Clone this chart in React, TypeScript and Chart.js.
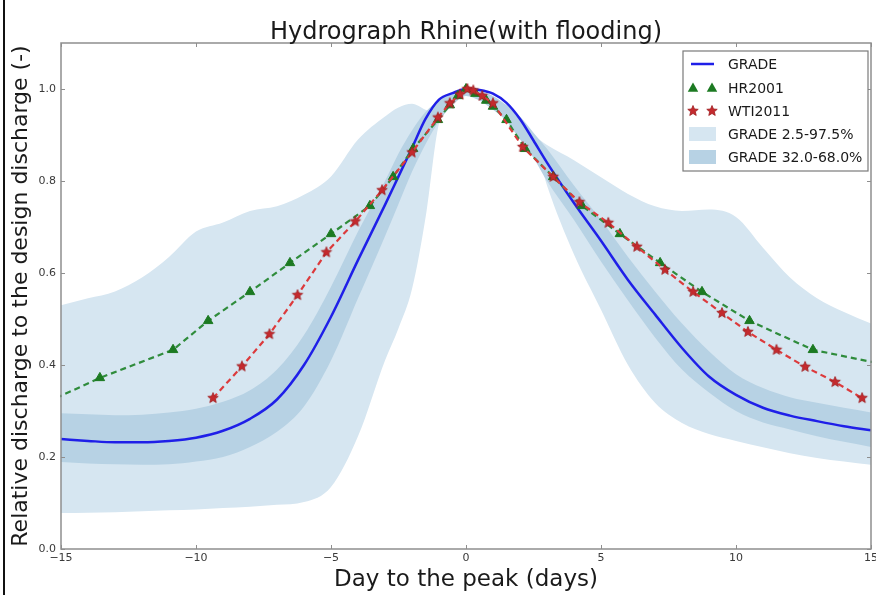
import React, { useEffect, useRef } from 'react';
import { Chart, registerables } from 'chart.js';

Chart.register(...registerables);

// ---------- data ----------
const DAYS = [-15, -14, -13, -12, -11, -10, -9, -8, -7, -6, -5, -4, -3, -2.5, -2, -1.5, -1, -0.5, 0, 0.5, 1, 1.5, 2, 2.5, 3, 4, 5, 6, 7, 8, 9, 10, 11, 12, 13, 14, 15];

const GRADE = [0.239, 0.235, 0.232, 0.232, 0.235, 0.242, 0.257, 0.283, 0.325, 0.4, 0.505, 0.628, 0.748, 0.81, 0.872, 0.935, 0.977, 0.991, 1.0, 0.998, 0.99, 0.97, 0.935, 0.888, 0.84, 0.752, 0.67, 0.585, 0.51, 0.437, 0.375, 0.335, 0.307, 0.29, 0.278, 0.267, 0.258];

const GRADE_P975 = [0.53, 0.545, 0.56, 0.59, 0.635, 0.69, 0.71, 0.735, 0.745, 0.77, 0.81, 0.89, 0.94, 0.96, 0.968, 0.955, 0.945, 0.975, 0.995, 0.985, 0.965, 0.95, 0.925, 0.9, 0.878, 0.845, 0.808, 0.772, 0.745, 0.735, 0.738, 0.722, 0.655, 0.59, 0.545, 0.515, 0.49];

const GRADE_P025 = [0.078, 0.079, 0.08, 0.082, 0.084, 0.086, 0.089, 0.092, 0.096, 0.102, 0.135, 0.245, 0.41, 0.48, 0.565, 0.72, 0.925, 0.965, 0.99, 0.98, 0.96, 0.945, 0.93, 0.89, 0.79, 0.64, 0.52, 0.4, 0.318, 0.274, 0.25, 0.235, 0.221, 0.208, 0.198, 0.19, 0.183];

const GRADE_P68 = [0.295, 0.293, 0.291, 0.292, 0.297, 0.305, 0.32, 0.345, 0.39, 0.465, 0.57, 0.69, 0.8, 0.86, 0.91, 0.95, 0.975, 0.99, 1.0, 0.995, 0.985, 0.965, 0.94, 0.905, 0.87, 0.79, 0.715, 0.635, 0.56, 0.49, 0.43, 0.38, 0.35, 0.33, 0.318, 0.307, 0.297];

const GRADE_P32 = [0.189, 0.186, 0.184, 0.183, 0.184, 0.19, 0.2, 0.222, 0.255, 0.31, 0.41, 0.545, 0.68, 0.75, 0.82, 0.88, 0.93, 0.965, 0.985, 0.975, 0.955, 0.93, 0.89, 0.85, 0.8, 0.715, 0.625, 0.54, 0.46, 0.39, 0.34, 0.3, 0.275, 0.26, 0.245, 0.233, 0.222];

const HR2001_DAYS = [-15.85, -13.56, -10.85, -9.55, -8.0, -6.52, -5.0, -3.56, -2.7, -1.96, -1.04, -0.6, -0.3, 0.0, 0.35, 0.75, 1.0, 1.5, 2.19, 3.23, 4.3, 5.7, 7.19, 8.74, 10.5, 12.85, 17.9];
const HR2001 = [0.31, 0.372, 0.433, 0.496, 0.559, 0.622, 0.685, 0.746, 0.809, 0.87, 0.933, 0.965, 0.985, 1.0, 0.99, 0.975, 0.962, 0.933, 0.87, 0.809, 0.746, 0.685, 0.622, 0.559, 0.496, 0.433, 0.372];

const WTI2011_DAYS = [-9.37, -8.3, -7.28, -6.24, -5.17, -4.1, -3.11, -2.0, -1.04, -0.6, -0.22, 0.05, 0.27, 0.6, 1.0, 2.1, 3.23, 4.2, 5.27, 6.33, 7.37, 8.41, 9.48, 10.44, 11.5, 12.56, 13.67, 14.67];
const WTI2011 = [0.328, 0.397, 0.467, 0.552, 0.645, 0.712, 0.78, 0.862, 0.938, 0.969, 0.988, 1.0, 0.997, 0.985, 0.969, 0.874, 0.809, 0.754, 0.709, 0.657, 0.607, 0.559, 0.513, 0.472, 0.433, 0.396, 0.363, 0.328];

const X_TICKS = [-15, -10, -5, 0, 5, 10, 15];
const Y_TICKS = [0, 0.2, 0.4, 0.6, 0.8, 1.0];

const TITLE = 'Hydrograph Rhine(with flooding)';
const X_TITLE = 'Day to the peak (days)';
const Y_TITLE = 'Relative discharge to the design discharge (-)';
const LEGEND_LABELS = ['GRADE', 'HR2001', 'WTI2011', 'GRADE 2.5-97.5%', 'GRADE 32.0-68.0%'];

// ---------- styles ----------
const FONT = '"DejaVu Sans", "Liberation Sans", sans-serif';
const BLUE = '#1f1fe8';
const GREEN_LINE = '#2f8c3c';
const GREEN_MARK = '#1c7a22';
const RED_LINE = '#dc3a3c';
const RED_MARK = '#c42a2e';
const LIGHT = 'rgb(214,230,241)';
const DARK = 'rgb(183,210,228)';
const FRAME = '#8e8e8e';
const TICK_TEXT = '#3a3a3a';

function pts(xs: number[], ys: number[]) {
  return xs.map((x, i) => ({ x, y: ys[i] }));
}

function fmtX(v: number) {
  return v < 0 ? '\u2212' + Math.abs(v) : String(v);
}

function makeStar(r: number, fill: string, stroke: string) {
  const size = Math.ceil(r * 2 + 3);
  const c = document.createElement('canvas');
  c.width = size;
  c.height = size;
  const g = c.getContext('2d')!;
  g.beginPath();
  for (let i = 0; i < 10; i++) {
    const ang = -Math.PI / 2 + (i * Math.PI) / 5;
    const rr = i % 2 === 0 ? r : r * 0.45;
    g.lineTo(size / 2 + rr * Math.cos(ang), size / 2 + rr * Math.sin(ang));
  }
  g.closePath();
  g.fillStyle = fill;
  g.fill();
  g.strokeStyle = stroke;
  g.lineWidth = 0.8;
  g.stroke();
  return c;
}

function drawTriangle(ctx: CanvasRenderingContext2D, x: number, y: number, r: number, color: string) {
  ctx.beginPath();
  ctx.moveTo(x, y - r);
  ctx.lineTo(x + r * 0.95, y + r * 0.7);
  ctx.lineTo(x - r * 0.95, y + r * 0.7);
  ctx.closePath();
  ctx.fillStyle = color;
  ctx.fill();
}

const framePlugin = {
  id: 'frameTicks',
  afterDatasetsDraw(chart: any) {
    const { ctx, chartArea: a, scales } = chart;
    ctx.save();
    ctx.strokeStyle = FRAME;
    ctx.lineWidth = 1.5;
    ctx.strokeRect(a.left, a.top, a.right - a.left, a.bottom - a.top);
    ctx.lineWidth = 1;
    ctx.beginPath();
    for (const v of X_TICKS) {
      const px = Math.round(scales.x.getPixelForValue(v)) + 0.5;
      ctx.moveTo(px, a.bottom);
      ctx.lineTo(px, a.bottom - 4);
      ctx.moveTo(px, a.top);
      ctx.lineTo(px, a.top + 4);
    }
    for (const v of Y_TICKS) {
      const py = Math.round(scales.y.getPixelForValue(v)) + 0.5;
      ctx.moveTo(a.left, py);
      ctx.lineTo(a.left + 4, py);
      ctx.moveTo(a.right, py);
      ctx.lineTo(a.right - 4, py);
    }
    ctx.stroke();
    // x tick labels
    ctx.fillStyle = TICK_TEXT;
    ctx.font = `11px ${FONT}`;
    ctx.textAlign = 'center';
    ctx.textBaseline = 'top';
    for (const v of X_TICKS) {
      ctx.fillText(fmtX(v), scales.x.getPixelForValue(v), a.bottom + 4);
    }
    ctx.restore();
  },
};

const titlePlugin = {
  id: 'centeredTitle',
  afterDraw(chart: any) {
    const { ctx, chartArea: a } = chart;
    ctx.save();
    ctx.font = `24px ${FONT}`;
    ctx.fillStyle = '#1a1a1a';
    ctx.textAlign = 'center';
    ctx.textBaseline = 'alphabetic';
    ctx.fillText(TITLE, (a.left + a.right) / 2, 39);
    ctx.restore();
  },
};

function makeLegendPlugin(star: HTMLCanvasElement) {
  return {
    id: 'customLegend',
    afterDraw(chart: any) {
      const { ctx } = chart;
      const bx = 683, by = 51, bw = 185, bh = 120;
      ctx.save();
      ctx.fillStyle = '#ffffff';
      ctx.fillRect(bx, by, bw, bh);
      ctx.strokeStyle = '#7a7a7a';
      ctx.lineWidth = 1.2;
      ctx.strokeRect(bx, by, bw, bh);
      const rows = [64, 88, 111, 134, 157];
      const hx0 = 689, hx1 = 716;
      rows.forEach((ry, i) => {
        if (i === 0) {
          ctx.strokeStyle = BLUE;
          ctx.lineWidth = 2.5;
          ctx.beginPath();
          ctx.moveTo(hx0 + 2, ry);
          ctx.lineTo(hx1 - 2, ry);
          ctx.stroke();
        } else if (i === 1) {
          drawTriangle(ctx, hx0 + 4, ry, 5.5, GREEN_MARK);
          drawTriangle(ctx, hx1 - 4, ry, 5.5, GREEN_MARK);
        } else if (i === 2) {
          ctx.drawImage(star, hx0 + 4 - star.width / 2, ry - star.height / 2);
          ctx.drawImage(star, hx1 - 4 - star.width / 2, ry - star.height / 2);
        } else {
          ctx.fillStyle = i === 3 ? LIGHT : DARK;
          ctx.fillRect(hx0, ry - 7, hx1 - hx0, 14);
        }
        ctx.fillStyle = '#1a1a1a';
        ctx.font = `14px ${FONT}`;
        ctx.textAlign = 'left';
        ctx.textBaseline = 'middle';
        ctx.fillText(LEGEND_LABELS[i], 728, ry + 1);
      });
      ctx.restore();
    },
  };
}

export default function App() {
  const ref = useRef<HTMLCanvasElement>(null);

  useEffect(() => {
    const star = makeStar(5.5, RED_MARK, '#9e1f22');
    const chart = new Chart(ref.current!, {
      type: 'line',
      data: {
        datasets: [
          {
            label: 'WTI2011',
            data: pts(WTI2011_DAYS, WTI2011),
            borderColor: RED_LINE,
            borderWidth: 2.2,
            borderDash: [6, 4],
            pointStyle: star as any,
            pointRadius: 6,
            pointBackgroundColor: RED_MARK,
            pointBorderColor: RED_MARK,
            fill: false,
            tension: 0,
            clip: 1,
          } as any,
          {
            label: 'HR2001',
            data: pts(HR2001_DAYS, HR2001),
            borderColor: GREEN_LINE,
            borderWidth: 2.2,
            borderDash: [6, 4],
            pointStyle: 'triangle',
            pointRadius: 5.5,
            pointBackgroundColor: GREEN_MARK,
            pointBorderColor: GREEN_MARK,
            pointBorderWidth: 1,
            fill: false,
            tension: 0,
            clip: 1,
          } as any,
          {
            label: 'GRADE',
            data: pts(DAYS, GRADE),
            borderColor: BLUE,
            borderWidth: 2.5,
            pointRadius: 0,
            fill: false,
            cubicInterpolationMode: 'monotone',
          } as any,
          {
            label: 'GRADE 32.0-68.0% upper',
            data: pts(DAYS, GRADE_P68),
            borderWidth: 0,
            borderColor: 'rgba(0,0,0,0)',
            backgroundColor: DARK,
            pointRadius: 0,
            fill: '+1',
            cubicInterpolationMode: 'monotone',
          } as any,
          {
            label: 'GRADE 32.0-68.0% lower',
            data: pts(DAYS, GRADE_P32),
            borderWidth: 0,
            borderColor: 'rgba(0,0,0,0)',
            pointRadius: 0,
            fill: false,
            cubicInterpolationMode: 'monotone',
          } as any,
          {
            label: 'GRADE 2.5-97.5% upper',
            data: pts(DAYS, GRADE_P975),
            borderWidth: 0,
            borderColor: 'rgba(0,0,0,0)',
            backgroundColor: LIGHT,
            pointRadius: 0,
            fill: '+1',
            cubicInterpolationMode: 'monotone',
          } as any,
          {
            label: 'GRADE 2.5-97.5% lower',
            data: pts(DAYS, GRADE_P025),
            borderWidth: 0,
            borderColor: 'rgba(0,0,0,0)',
            pointRadius: 0,
            fill: false,
            cubicInterpolationMode: 'monotone',
          } as any,
        ],
      },
      options: {
        animation: false,
        responsive: false,
        devicePixelRatio: 1,
        layout: { autoPadding: false, padding: { left: 0, top: 43, right: 5, bottom: 0 } },
        plugins: {
          legend: { display: false },
          title: { display: false },
          tooltip: { enabled: false },
        },
        events: [],
        scales: {
          x: {
            type: 'linear',
            min: -15,
            max: 15,
            grid: { display: false, drawTicks: false },
            border: { display: false },
            afterBuildTicks: (s: any) => {
              s.ticks = X_TICKS.map((v) => ({ value: v }));
            },
            afterFit: (s: any) => {
              s.height = 46;
            },
            ticks: { display: false },
            title: {
              display: true,
              text: X_TITLE,
              color: '#1a1a1a',
              font: { family: FONT, size: 23 },
              padding: { top: 0, bottom: 1 },
            },
          },
          y: {
            type: 'linear',
            min: 0,
            max: 1.1,
            grid: { display: false, drawTicks: false },
            border: { display: false },
            afterBuildTicks: (s: any) => {
              s.ticks = Y_TICKS.map((v) => ({ value: v }));
            },
            afterFit: (s: any) => {
              s.width = 61;
            },
            ticks: {
              padding: 5,
              autoSkip: false,
              color: TICK_TEXT,
              font: { family: FONT, size: 11 },
              callback: (v: any) => Number(v).toFixed(1),
            },
            title: {
              display: true,
              text: Y_TITLE,
              color: '#1a1a1a',
              font: { family: FONT, size: 22 },
              padding: { top: 8, bottom: 0 },
            },
          },
        },
      } as any,
      plugins: [framePlugin, titlePlugin, makeLegendPlugin(star)],
    });
    return () => chart.destroy();
  }, []);

  return (
    <div style={{ position: 'fixed', left: 0, top: 0, width: 876, height: 595, background: '#ffffff' }}>
      <canvas ref={ref} width={876} height={595} style={{ display: 'block', width: 876, height: 595 }} />
      <div style={{ position: 'absolute', left: 3, top: 0, width: 2, height: 595, background: '#111' }} />
    </div>
  );
}
